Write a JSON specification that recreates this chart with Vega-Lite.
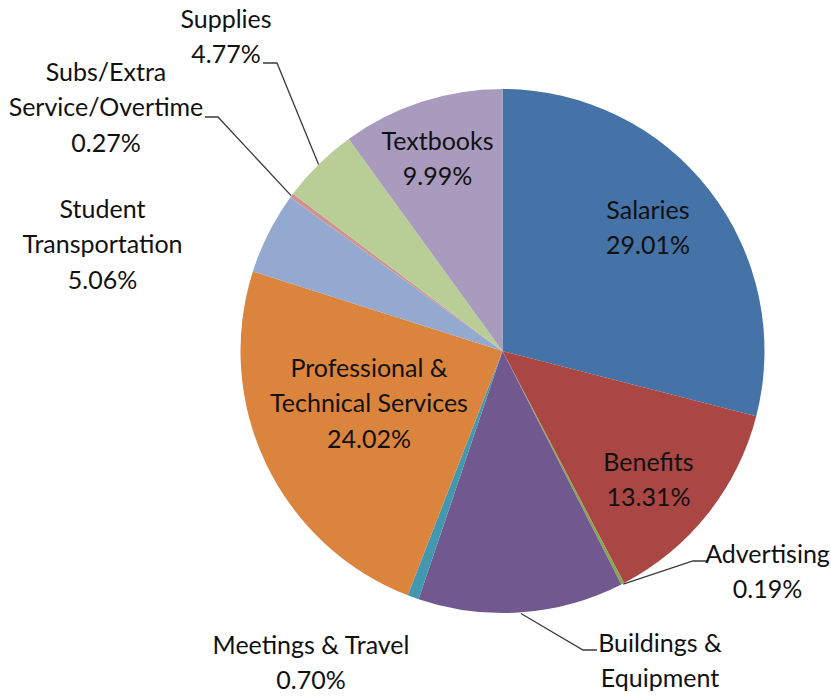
{
  "$schema": "https://vega.github.io/schema/vega-lite/v6.json",
  "width": 657,
  "height": 690,
  "padding": {"left": 174, "top": 6, "right": 0, "bottom": 0},
  "autosize": {"type": "none"},
  "background": "white",
  "view": {"stroke": null},
  "config": {"text": {"font": "Lato"}},
  "datasets": {
    "slices": [
      {"category": "Salaries", "value": 29.01, "order": 1},
      {"category": "Benefits", "value": 13.31, "order": 2},
      {"category": "Advertising", "value": 0.19, "order": 3},
      {"category": "Buildings & Equipment", "value": 12.68, "order": 4},
      {"category": "Meetings & Travel", "value": 0.70, "order": 5},
      {"category": "Professional & Technical Services", "value": 24.02, "order": 6},
      {"category": "Student Transportation", "value": 5.06, "order": 7},
      {"category": "Subs/Extra Service/Overtime", "value": 0.27, "order": 8},
      {"category": "Supplies", "value": 4.77, "order": 9},
      {"category": "Textbooks", "value": 9.99, "order": 10}
    ],
    "labels": [
      {"text": "Salaries\n29.01%", "u": 0.5553, "v": 0.5038},
      {"text": "Benefits\n13.31%", "u": 0.5573, "v": -0.458},
      {"text": "Textbooks\n9.99%", "u": -0.2481, "v": 0.7672},
      {"text": "Professional &\nTechnical Services\n24.02%", "u": -0.5095, "v": -0.0992},
      {"text": "Supplies\n4.77%", "u": -1.0553, "v": 1.2328},
      {"text": "Subs/Extra\nService/Overtime\n0.27%", "u": -1.5134, "v": 1.0305},
      {"text": "Student\nTransportation\n5.06%", "u": -1.5267, "v": 0.5076},
      {"text": "Meetings & Travel\n0.70%", "u": -0.7309, "v": -1.1565},
      {"text": "Buildings &\nEquipment", "u": 0.6011, "v": -1.1489},
      {"text": "Advertising\n0.19%", "u": 1.0115, "v": -0.8092}
    ],
    "leaders": [
      {"leader": "Supplies", "seq": 1, "u": -0.9141, "v": 1.0992},
      {"leader": "Supplies", "seq": 2, "u": -0.8607, "v": 1.0992},
      {"leader": "Supplies", "seq": 3, "u": -0.702, "v": 0.712},
      {"leader": "Subs", "seq": 1, "u": -1.1355, "v": 0.8931},
      {"leader": "Subs", "seq": 2, "u": -1.0859, "v": 0.8931},
      {"leader": "Subs", "seq": 3, "u": -0.8068, "v": 0.5931},
      {"leader": "Advertising", "seq": 1, "u": 0.7805, "v": -0.8015},
      {"leader": "Advertising", "seq": 2, "u": 0.7271, "v": -0.8015},
      {"leader": "Advertising", "seq": 3, "u": 0.4608, "v": -0.8897},
      {"leader": "Buildings", "seq": 1, "u": 0.3607, "v": -1.1412},
      {"leader": "Buildings", "seq": 2, "u": 0.3073, "v": -1.1412},
      {"leader": "Buildings", "seq": 3, "u": 0.0704, "v": -1.0018}
    ]
  },
  "layer": [
    {
      "data": {"name": "slices"},
      "mark": {"type": "arc", "outerRadius": 262, "stroke": null},
      "encoding": {
        "theta": {"field": "value", "type": "quantitative", "stack": true},
        "order": {"field": "order", "type": "quantitative"},
        "color": {
          "field": "category",
          "type": "nominal",
          "legend": null,
          "scale": {
            "domain": ["Salaries", "Benefits", "Advertising", "Buildings & Equipment", "Meetings & Travel", "Professional & Technical Services", "Student Transportation", "Subs/Extra Service/Overtime", "Supplies", "Textbooks"],
            "range": ["#4572A7", "#AA4643", "#89A54E", "#71588F", "#4198AF", "#DB843D", "#93A9CF", "#D19392", "#B9CD96", "#A99BBD"]
          }
        }
      }
    },
    {
      "data": {"name": "leaders"},
      "mark": {"type": "line", "color": "#3a3a3a", "strokeWidth": 1.3},
      "encoding": {
        "x": {"field": "u", "type": "quantitative", "axis": null, "scale": {"domain": [-1.2538, 1.2538], "nice": false, "zero": false}},
        "y": {"field": "v", "type": "quantitative", "axis": null, "scale": {"domain": [-1.3168, 1.3168], "nice": false, "zero": false}},
        "detail": {"field": "leader", "type": "nominal"},
        "order": {"field": "seq", "type": "quantitative"}
      }
    },
    {
      "data": {"name": "labels"},
      "mark": {"type": "text", "fontSize": 25, "lineHeight": 35.3, "lineBreak": "\n", "align": "center", "baseline": "alphabetic", "color": "#111111"},
      "encoding": {
        "x": {"field": "u", "type": "quantitative", "axis": null, "scale": {"domain": [-1.2538, 1.2538], "nice": false, "zero": false}},
        "y": {"field": "v", "type": "quantitative", "axis": null, "scale": {"domain": [-1.3168, 1.3168], "nice": false, "zero": false}},
        "text": {"field": "text", "type": "nominal"}
      }
    }
  ]
}
